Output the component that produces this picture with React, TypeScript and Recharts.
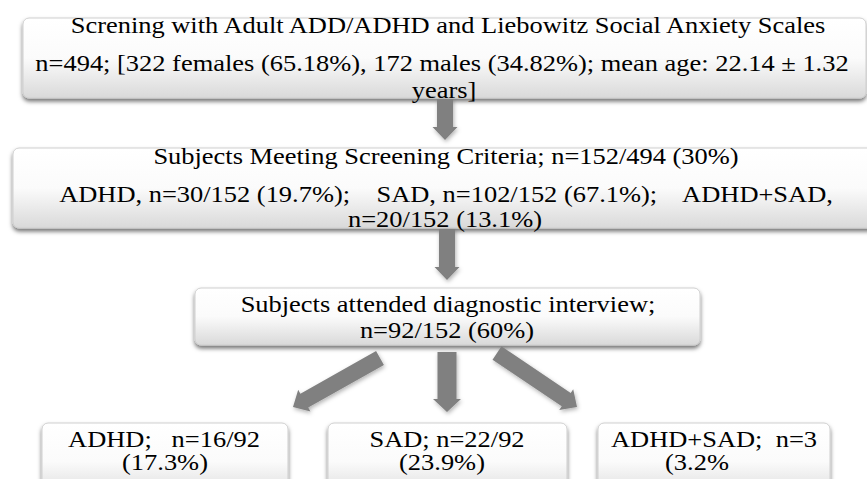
import React from 'react'
import { ComposedChart, XAxis, YAxis, Scatter, ReferenceArea, ReferenceLine } from 'recharts'

const W = 867
const H = 479

// text of every stage, one entry per printed line
const screeningLines = [
  'Screning with Adult ADD/ADHD and Liebowitz Social Anxiety Scales',
  'n=494; [322 females (65.18%), 172 males (34.82%); mean age: 22.14 ± 1.32',
  'years]',
]
const criteriaLines = [
  'Subjects Meeting Screening Criteria; n=152/494 (30%)',
  'ADHD, n=30/152 (19.7%);    SAD, n=102/152 (67.1%);    ADHD+SAD,',
  'n=20/152 (13.1%)',
]
const interviewLines = ['Subjects attended diagnostic interview;', 'n=92/152 (60%)']
const adhdLines = ['ADHD;   n=16/92', '(17.3%)']
const sadLines = ['SAD; n=22/92', '(23.9%)']
const bothLines = ['ADHD+SAD;  n=3', '(3.2%']

// layout of the boxes in the 867x479 frame
const boxes = [
  { x1: 23, x2: 866, y1: 18, y2: 98, lines: screeningLines, lx: [448, 442, 444], ly: [33, 71, 98] },
  { x1: 13, x2: 875, y1: 148, y2: 228, lines: criteriaLines, lx: [446, 446, 445], ly: [164, 202, 227] },
  { x1: 195, x2: 700, y1: 288, y2: 345, lines: interviewLines, lx: [448, 447], ly: [312, 338] },
  { x1: 42, x2: 288, y1: 423, y2: 500, lines: adhdLines, lx: [164, 165], ly: [447, 470] },
  { x1: 328, x2: 567, y1: 423, y2: 500, lines: sadLines, lx: [447, 442], ly: [447, 470] },
  { x1: 598, x2: 830, y1: 423, y2: 500, lines: bothLines, lx: [714, 697], ly: [447, 470] },
]

const arrows = [
  { x1: 445, y1: 99, x2: 445, y2: 140, w: 16 },
  { x1: 447, y1: 229, x2: 447, y2: 280, w: 16 },
  { x1: 380, y1: 358, x2: 293, y2: 407, w: 16 },
  { x1: 447, y1: 352, x2: 447, y2: 412, w: 19 },
  { x1: 497, y1: 353, x2: 577, y2: 407, w: 16 },
]

const textPoints = boxes.flatMap((b) =>
  b.lines.map((text, i) => ({ x: b.lx[i], y: b.ly[i], text }))
)

const FONT = "'Liberation Serif', 'Times New Roman', serif"

const BoxShape = (p: any) => (
  <rect
    x={p.x}
    y={p.y}
    width={p.width}
    height={p.height}
    rx={6}
    ry={6}
    fill="url(#boxGrad)"
    stroke="#cfcfcf"
    strokeWidth={1}
    filter="url(#boxShadow)"
  />
)

const arrowShape = (w: number) => (p: any) => {
  const { x1, y1, x2, y2 } = p
  const dx = x2 - x1
  const dy = y2 - y1
  const len = Math.hypot(dx, dy) || 1
  const ux = dx / len
  const uy = dy / len
  const px = -uy
  const py = ux
  const hl = 13
  const hw = (w + 9) / 2
  const sw = w / 2
  const bx = x2 - ux * hl
  const by = y2 - uy * hl
  const pts = [
    [x1 + px * sw, y1 + py * sw],
    [bx + px * sw, by + py * sw],
    [bx + px * hw, by + py * hw],
    [x2, y2],
    [bx - px * hw, by - py * hw],
    [bx - px * sw, by - py * sw],
    [x1 - px * sw, y1 - py * sw],
  ]
  return (
    <polygon
      points={pts.map((q) => q.join(',')).join(' ')}
      fill="#808080"
      filter="url(#arrowShadow)"
    />
  )
}

// the picture is a little wider than tall, so the type is stretched sideways
const TextShape = (p: any) => (
  <text
    transform={`translate(${p.cx},${p.cy}) scale(1.15,1)`}
    x={0}
    y={0}
    textAnchor="middle"
    fontFamily={FONT}
    fontSize={23}
    fill="#000"
    style={{ whiteSpace: 'pre' }}
  >
    {p.payload.text}
  </text>
)

export default function App() {
  return (
    <div style={{ position: 'absolute', left: 0, top: 0, width: W, height: H, background: '#fff' }}>
      <ComposedChart width={W} height={H} margin={{ top: 0, right: 0, bottom: 0, left: 0 }}>
        <defs>
          <linearGradient id="boxGrad" x1="0" y1="0" x2="0" y2="1">
            <stop offset="0%" stopColor="#ffffff" />
            <stop offset="50%" stopColor="#fbfbfb" />
            <stop offset="100%" stopColor="#d9d9d9" />
          </linearGradient>
          <filter id="boxShadow" x="-5%" y="-20%" width="110%" height="150%">
            <feDropShadow dx="0" dy="3" stdDeviation="2" floodColor="#000" floodOpacity="0.55" />
          </filter>
          <filter id="arrowShadow" x="-50%" y="-50%" width="200%" height="200%">
            <feDropShadow dx="1" dy="2" stdDeviation="2" floodColor="#000" floodOpacity="0.3" />
          </filter>
        </defs>
        <XAxis type="number" dataKey="x" domain={[0, W]} allowDataOverflow hide />
        <YAxis type="number" dataKey="y" domain={[0, H]} allowDataOverflow reversed hide />
        {arrows.map((a, i) => (
          <ReferenceLine
            key={'a' + i}
            segment={[{ x: a.x1, y: a.y1 }, { x: a.x2, y: a.y2 }]}
            ifOverflow="visible"
            shape={arrowShape(a.w)}
          />
        ))}
        {boxes.map((b, i) => (
          <ReferenceArea
            key={'b' + i}
            x1={b.x1}
            x2={b.x2}
            y1={b.y1}
            y2={b.y2}
            ifOverflow="visible"
            shape={BoxShape}
          />
        ))}
        <Scatter data={textPoints} shape={TextShape} isAnimationActive={false} />
      </ComposedChart>
    </div>
  )
}
